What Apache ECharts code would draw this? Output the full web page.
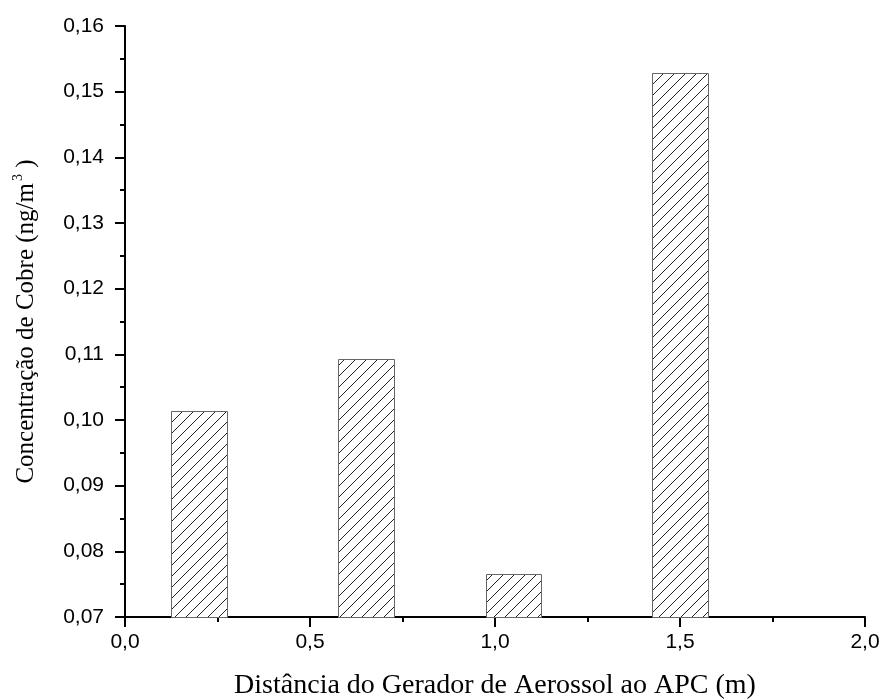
<!DOCTYPE html>
<html>
<head>
<meta charset="utf-8">
<script src="https://cdn.jsdelivr.net/npm/echarts@6/dist/echarts.min.js"></script>
<style>html,body{margin:0;padding:0;background:#fff}#c{width:880px;height:700px}</style>
</head>
<body>
<div id="c"></div>
<script>
const distances = [0.2, 0.65, 1.05, 1.5];
const concentrations = [0.1013, 0.1093, 0.0766, 0.1529];
const xTicks = [0, 0.5, 1.0, 1.5, 2.0];
const yTicks = [0.07, 0.08, 0.09, 0.10, 0.11, 0.12, 0.13, 0.14, 0.15, 0.16];

const BAR_W = 0.15;
const Y_MIN = 0.07;

function makeHatch() {
  const s = 11;
  const c = document.createElement('canvas');
  c.width = s; c.height = s;
  const g = c.getContext('2d');
  g.fillStyle = '#fff';
  g.fillRect(0, 0, s, s);
  g.strokeStyle = '#222';
  g.lineWidth = 1;
  g.beginPath();
  g.moveTo(-2, s + 2); g.lineTo(s + 2, -2);
  g.moveTo(-2, 2); g.lineTo(2, -2);
  g.moveTo(s - 2, s + 2); g.lineTo(s + 2, s - 2);
  g.stroke();
  return c;
}
const hatch = makeHatch();

const chart = echarts.init(document.getElementById('c'));
const sansLabel = { color: '#000', fontFamily: 'Liberation Sans, Arial, sans-serif', fontSize: 21 };
chart.setOption({
  animation: false,
  backgroundColor: '#fff',
  grid: { left: 125, right: 15, top: 26, bottom: 83, containLabel: false, outerBoundsMode: 'none' },
  xAxis: {
    type: 'value', min: xTicks[0], max: xTicks[xTicks.length - 1], interval: 0.5,
    name: 'Distância do Gerador de Aerossol ao APC (m)',
    nameLocation: 'middle', nameGap: 55,
    nameTextStyle: { color: '#000', fontFamily: 'Liberation Serif, Times New Roman, serif', fontSize: 28 },
    axisLine: { show: true, onZero: false, lineStyle: { color: '#000', width: 2 } },
    axisTick: { show: true, inside: false, length: 10, lineStyle: { color: '#000', width: 2 } },
    minorTick: { show: true, splitNumber: 2, length: 5, lineStyle: { color: '#000', width: 2 } },
    splitLine: { show: false },
    axisLabel: Object.assign({ margin: 15, formatter: v => v.toFixed(1).replace('.', ',') }, sansLabel)
  },
  yAxis: {
    type: 'value', min: yTicks[0], max: yTicks[yTicks.length - 1], interval: 0.01,
    name: '{a|Concentração de Cobre (ng/m}{s|3}{a| )}',
    nameLocation: 'middle', nameGap: 84, nameRotate: 90,
    nameTextStyle: {
      rich: {
        a: { color: '#000', fontFamily: 'Liberation Serif, Times New Roman, serif', fontSize: 25, lineHeight: 30 },
        s: { color: '#000', fontFamily: 'Liberation Serif, Times New Roman, serif', fontSize: 14, verticalAlign: 'top', lineHeight: 30, padding: [0, 0, 0, 2] }
      }
    },
    axisLine: { show: true, onZero: false, lineStyle: { color: '#000', width: 2 } },
    axisTick: { show: true, inside: false, length: 10, lineStyle: { color: '#000', width: 2 } },
    minorTick: { show: true, splitNumber: 2, length: 5, lineStyle: { color: '#000', width: 2 } },
    splitLine: { show: false },
    axisLabel: Object.assign({ margin: 21, formatter: v => v.toFixed(2).replace('.', ',') }, sansLabel)
  },
  series: [{
    type: 'custom',
    data: distances.map((d, i) => [d, concentrations[i]]),
    renderItem: function (params, api) {
      const x = api.value(0), y = api.value(1);
      const p1 = api.coord([x - BAR_W / 2, y]);
      const p2 = api.coord([x + BAR_W / 2, Y_MIN]);
      return {
        type: 'rect',
        shape: { x: Math.round(p1[0]) + 0.5, y: Math.round(p1[1]) + 0.5, width: Math.round(p2[0] - p1[0]), height: Math.round(p2[1] - p1[1]) },
        style: { fill: { image: hatch, repeat: 'repeat' }, stroke: '#666', lineWidth: 1 }
      };
    }
  }]
});
</script>
</body>
</html>
